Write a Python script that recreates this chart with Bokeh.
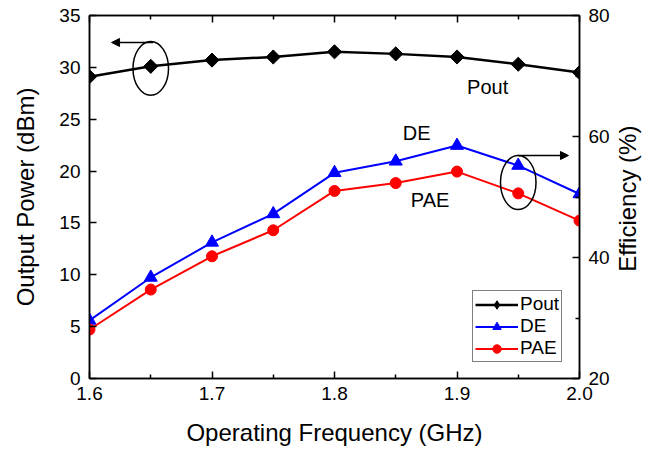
import numpy as np
from bokeh.plotting import figure
from bokeh.models import (Range1d, LinearAxis, FixedTicker, Label, Arrow, NormalHead,
                          Legend, LegendItem, ColumnDataSource)
from bokeh.embed import file_html
from bokeh.resources import INLINE

freq = [1.6, 1.65, 1.7, 1.75, 1.8, 1.85, 1.9, 1.95, 2.0]
pout = [29.1, 30.1, 30.7, 31.0, 31.5, 31.3, 31.0, 30.3, 29.5]
de = [29.6, 36.7, 42.5, 47.2, 54.0, 55.9, 58.5, 55.2, 50.5]
pae = [28.1, 34.7, 40.2, 44.5, 51.0, 52.3, 54.2, 50.6, 46.1]

x_ticks = [1.6, 1.7, 1.8, 1.9, 2.0]
x_minor = [1.65, 1.75, 1.85, 1.95]
left_ticks = [0, 5, 10, 15, 20, 25, 30, 35]
right_ticks = [20, 40, 60, 80]
right_minor = [30, 50, 70]

FONT = "Liberation Sans"
TICK_FS = "19px"
LABEL_FS = "24px"

p = figure(width=662, height=453, x_range=Range1d(1.6, 2.0), y_range=Range1d(0, 35),
           output_backend="svg", toolbar_location=None,
           x_axis_location=None, y_axis_location=None,
           min_border_left=89, min_border_right=83, min_border_top=15, min_border_bottom=75)
p.extra_y_ranges = {"eff": Range1d(20, 80)}
p.grid.visible = False
p.outline_line_color = "black"
p.outline_line_width = 1.5
p.background_fill_color = "white"
p.border_fill_color = "white"


def style_axis(ax, ticks, minor):
    ax.ticker = FixedTicker(ticks=ticks, minor_ticks=minor)
    ax.major_tick_in = 7
    ax.major_tick_out = 0
    ax.minor_tick_in = 4
    ax.minor_tick_out = 0
    ax.axis_line_color = "black"
    ax.axis_line_width = 1.5
    ax.major_tick_line_width = 1.5
    ax.minor_tick_line_width = 1.5
    ax.major_label_text_font = FONT
    ax.major_label_text_font_size = TICK_FS
    ax.major_label_text_color = "black"
    ax.axis_label_text_font = FONT
    ax.axis_label_text_font_size = LABEL_FS
    ax.axis_label_text_font_style = "normal"
    ax.axis_label_text_color = "black"


xb = LinearAxis(axis_label="Operating Frequency (GHz)")
style_axis(xb, x_ticks, x_minor)
xb.major_label_overrides = {1.6: "1.6", 1.7: "1.7", 1.8: "1.8", 1.9: "1.9", 2.0: "2.0"}
xb.major_label_standoff = 8
xb.axis_label_standoff = 16
p.add_layout(xb, "below")

xt = LinearAxis()
style_axis(xt, x_ticks, x_minor)
xt.major_label_text_font_size = "1px"
xt.major_label_text_color = None
xt.major_label_standoff = 0
p.add_layout(xt, "above")

yl = LinearAxis(axis_label="Output Power (dBm)")
style_axis(yl, left_ticks, [])
yl.major_label_standoff = 9
yl.axis_label_standoff = 17
p.add_layout(yl, "left")

# right title reads bottom-to-top; anchored at the axis start and padded
# with no-break spaces so that it sits centred along the axis
yr = LinearAxis(y_range_name="eff", axis_label="\u00a0" * 16 + "Efficiency (%)")
style_axis(yr, right_ticks, right_minor)
yr.major_label_standoff = 9
yr.axis_label_standoff = 15
yr.axis_label_orientation = np.pi / 2
yr.axis_label_align = "start"
p.add_layout(yr, "right")

# Series
l1 = p.line(freq, pout, line_color="black", line_width=2.5)
s1 = p.scatter(freq, pout, marker="square", angle=np.pi / 4, size=10,
               fill_color="black", line_color="black")
l2 = p.line(freq, de, line_color="#0000FF", line_width=2, y_range_name="eff")
s2 = p.scatter(freq, de, marker="triangle", size=13, fill_color="#0000FF",
               line_color="#0000FF", y_range_name="eff")
l3 = p.line(freq, pae, line_color="#FF0000", line_width=2, y_range_name="eff")
s3 = p.scatter(freq, pae, marker="circle", size=11, fill_color="#FF0000",
               line_color="#FF0000", y_range_name="eff")
# legend-only diamond (no visible data)
s1_leg = p.scatter([np.nan], [np.nan], marker="diamond", size=16,
                   fill_color="black", line_color="black")

legend = Legend(items=[LegendItem(label="Pout", renderers=[l1, s1_leg]),
                       LegendItem(label="DE", renderers=[l2, s2]),
                       LegendItem(label="PAE", renderers=[l3, s3])],
                location=(383, 16))
legend.label_text_font = FONT
legend.label_text_font_size = TICK_FS
legend.label_text_color = "black"
legend.glyph_width = 43
legend.glyph_height = 21
legend.label_height = 21
legend.label_standoff = 2
legend.spacing = 0
legend.padding = 2
legend.margin = 0
legend.border_line_color = "black"
legend.border_line_width = 1
legend.background_fill_alpha = 1
p.add_layout(legend, "center")

# Annotations
for (tx, ty, t) in [(1.925, 28.06, "Pout"), (1.867, 23.7, "DE"), (1.878, 17.2, "PAE")]:
    p.add_layout(Label(x=tx, y=ty, text=t, text_font=FONT, text_font_size="20px",
                       text_align="center", text_baseline="middle", text_color="black"))

ell = ColumnDataSource(dict(x=[1.65, 1.95], y=[29.9, 18.9], w=[0.029, 0.029], h=[5.2, 5.2]))
p.ellipse(x="x", y="y", width="w", height="h", source=ell, fill_color=None,
          line_color="black", line_width=1.5)

p.add_layout(Arrow(end=NormalHead(size=8, fill_color="black", line_color="black"),
                   x_start=1.652, y_start=32.4, x_end=1.618, y_end=32.4,
                   line_color="black", line_width=1.5))
p.add_layout(Arrow(end=NormalHead(size=8, fill_color="black", line_color="black"),
                   x_start=1.95, y_start=21.5, x_end=1.991, y_end=21.5,
                   line_color="black", line_width=1.5))

open("out.html", "w").write(file_html(p, INLINE))
